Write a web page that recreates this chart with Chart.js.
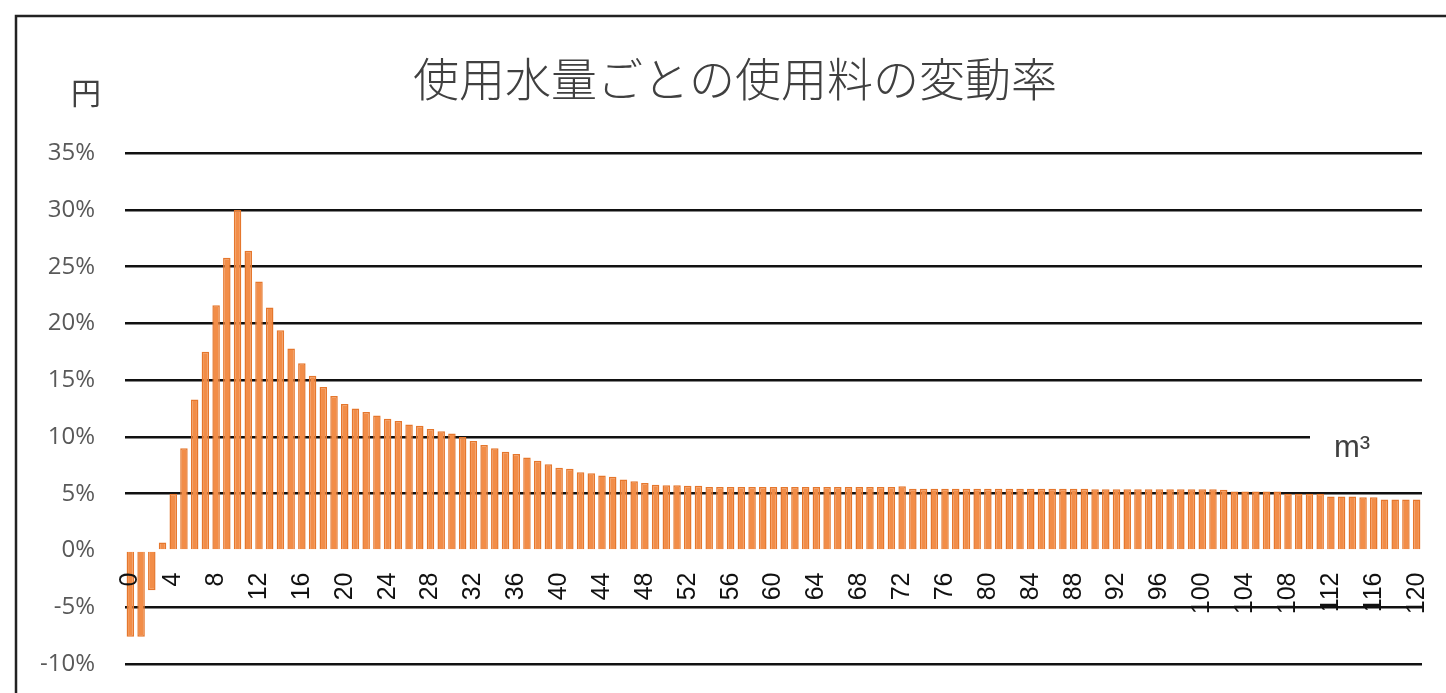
<!DOCTYPE html>
<html>
<head>
<meta charset="utf-8">
<script src="https://cdn.jsdelivr.net/npm/chart.js@4.4.1/dist/chart.umd.min.js"></script>
<style>
  body { margin: 0; background: #fff; }
</style>
</head>
<body>
<canvas id="rate" width="1446" height="693"></canvas>
<script>
const titleText = '使用水量ごとの使用料の変動率';

// 使用水量 (m3)
const usage = [
    0, 1, 2, 3, 4, 5, 6, 7, 8, 9, 10, 11, 12, 13, 14, 15, 16, 17, 18, 19,
    20, 21, 22, 23, 24, 25, 26, 27, 28, 29, 30, 31, 32, 33, 34, 35, 36, 37, 38, 39,
    40, 41, 42, 43, 44, 45, 46, 47, 48, 49, 50, 51, 52, 53, 54, 55, 56, 57, 58, 59,
    60, 61, 62, 63, 64, 65, 66, 67, 68, 69, 70, 71, 72, 73, 74, 75, 76, 77, 78, 79,
    80, 81, 82, 83, 84, 85, 86, 87, 88, 89, 90, 91, 92, 93, 94, 95, 96, 97, 98, 99,
    100, 101, 102, 103, 104, 105, 106, 107, 108, 109, 110, 111, 112, 113, 114, 115, 116, 117, 118, 119,
    120
];

// 変動率 (%)
const rate = [
    -7.6, -7.6, -3.5, 0.7, 5.0, 9.0, 13.3, 17.5, 21.6, 25.8,
    30.0, 26.4, 23.7, 21.4, 19.4, 17.8, 16.5, 15.4, 14.4, 13.6,
    12.9, 12.5, 12.2, 11.9, 11.6, 11.4, 11.1, 11.0, 10.7, 10.5,
    10.3, 10.0, 9.65, 9.3, 9.0, 8.7, 8.5, 8.2, 7.9, 7.6,
    7.3, 7.2, 6.9, 6.8, 6.6, 6.5, 6.25, 6.1, 5.95, 5.8,
    5.75, 5.75, 5.7, 5.7, 5.6, 5.6, 5.6, 5.6, 5.6, 5.6,
    5.6, 5.6, 5.6, 5.6, 5.6, 5.6, 5.6, 5.6, 5.6, 5.6,
    5.6, 5.6, 5.65, 5.45, 5.45, 5.45, 5.45, 5.45, 5.45, 5.45,
    5.45, 5.45, 5.45, 5.45, 5.45, 5.45, 5.45, 5.45, 5.45, 5.45,
    5.4, 5.4, 5.4, 5.4, 5.4, 5.4, 5.4, 5.4, 5.4, 5.4,
    5.4, 5.4, 5.35, 5.2, 5.2, 5.2, 5.2, 5.2, 5.0, 5.0,
    5.0, 5.0, 4.75, 4.75, 4.75, 4.7, 4.7, 4.5, 4.5, 4.5,
    4.5
];

const yMin = -10;
const yMax = 35;
const yStep = 5;

const extras = {
    id: 'extras',
    beforeDraw(chart) {
        const ctx = chart.ctx;
        ctx.save();
        ctx.strokeStyle = '#222';
        ctx.lineWidth = 2.5;
        ctx.beginPath();
        ctx.moveTo(16, 693);
        ctx.lineTo(16, 16);
        ctx.lineTo(1446, 16);
        ctx.stroke();
        ctx.restore();
    },
    afterDraw(chart) {
        const ctx = chart.ctx;
        const y10 = chart.scales.y.getPixelForValue(10);
        ctx.save();
        // label box of m3 hides the end of the 10% line
        ctx.fillStyle = '#fff';
        ctx.fillRect(1310, y10 - 4, chart.chartArea.right - 1310 + 4, 30);
        ctx.fillStyle = '#404040';
        ctx.textAlign = 'center';
        ctx.textBaseline = 'middle';
        ctx.font = '30px "Noto Sans CJK JP"';
        ctx.fillText('円', 86, 93);
        ctx.font = '31px "Liberation Sans"';
        ctx.fillText('m³', 1352, 448);
        ctx.restore();
    }
};

const ctx = document.getElementById('rate');

new Chart(ctx, {
    type: 'bar',
    data: {
        labels: usage,
        datasets: [{
            label: '変動率',
            data: rate,
            backgroundColor: '#F28D48',
            borderColor: '#E5772D',
            borderWidth: 1.5,
            barPercentage: 0.7,
            categoryPercentage: 1
        }]
    },
    options: {
        responsive: false,
        animation: false,
        devicePixelRatio: 1,
        layout: {
            padding: { top: 20, left: 36, right: 12, bottom: 29 }
        },
        plugins: {
            legend: { display: false },
            tooltip: { enabled: false },
            title: {
                display: true,
                text: titleText,
                color: '#404040',
                font: { family: 'Noto Sans CJK JP', size: 46, weight: 300 },
                padding: { top: 31, bottom: 47 }
            }
        },
        scales: {
            x: {
                position: { y: 0 },
                // labels sit inside the plot; keep a fixed gap on the right
                afterFit: s => {
                    s.paddingLeft = 0;
                    s.paddingRight = 24;
                    s.paddingTop = 0;
                    s.paddingBottom = 0;
                },
                grid: { display: false },
                border: { display: false },
                ticks: {
                    autoSkip: false,
                    minRotation: 90,
                    maxRotation: 90,
                    padding: 14,
                    z: 1,
                    color: '#111',
                    font: { family: 'Liberation Sans', size: 25 },
                    callback: function (v, i) {
                        return i % 4 === 0 ? this.getLabelForValue(v) : '';
                    }
                }
            },
            y: {
                min: yMin,
                max: yMax,
                afterFit: s => {
                    s.width = 89;
                    s.paddingTop = 0;
                    s.paddingBottom = 0;
                },
                border: { display: false },
                grid: {
                    drawTicks: false,
                    lineWidth: 2.5,
                    color: c => c.tick.value === 0 ? 'rgba(0,0,0,0)' : '#111'
                },
                ticks: {
                    stepSize: yStep,
                    padding: 30,
                    color: '#595959',
                    font: { family: 'Open Sans', size: 24 },
                    callback: v => v + '%'
                }
            }
        }
    },
    plugins: [extras]
});
</script>
</body>
</html>
